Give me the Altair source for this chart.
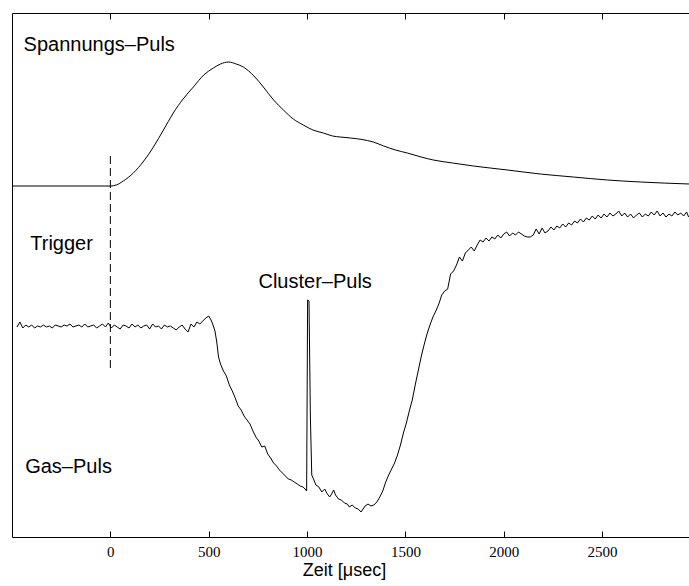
import altair as alt
import pandas as pd

# ---------------- data (time in microseconds, signal in arbitrary units) ----------------
x_ticks = [0, 500, 1000, 1500, 2000, 2500]
x_domain = [-500, 2942]
y_domain = [0, 524]

spannung_t = [-500, 0, 30, 66, 117, 170, 219, 270, 320, 370, 422, 475, 524, 560, 600,
              640, 676, 730, 778, 830, 880, 930, 981, 1030, 1083, 1130, 1169, 1220, 1280,
              1337, 1390, 1450, 1510, 1580, 1642, 1740, 1846, 2019, 2186, 2354, 2527, 2695, 2944]
spannung_v = [351, 351, 352, 356, 364, 376, 390, 407, 424, 438, 450, 462, 469, 473, 475,
              473, 470, 461, 450, 437, 427, 418, 412, 407, 404, 401, 400, 399, 397.5,
              395, 391, 387, 384, 380, 377, 374, 371, 367, 363, 360, 357, 355, 353]

gas_points = [
    (-475, 210), (-460, 215), (-445, 209), (-430, 212), (-415, 210), (-400, 212), (-385, 209),
    (-370, 211), (-355, 210), (-340, 212), (-325, 210), (-310, 211), (-295, 209), (-280, 212),
    (-265, 211), (-250, 210), (-235, 212), (-220, 211), (-205, 213), (-190, 210), (-175, 211),
    (-160, 212), (-145, 210), (-130, 213), (-115, 210), (-100, 211), (-85, 212), (-70, 209),
    (-55, 211), (-40, 213), (-25, 210), (-10, 214), (5, 209), (20, 212), (35, 210), (50, 208),
    (65, 212), (80, 211), (95, 209), (110, 213), (125, 210), (140, 212), (155, 209), (170, 211),
    (185, 212), (200, 208), (215, 213), (230, 210), (245, 211), (260, 208), (275, 212),
    (290, 210), (305, 211), (320, 209), (335, 207), (350, 210), (365, 212), (380, 208),
    (395, 205), (410, 213), (425, 210), (440, 215), (455, 213), (470, 216), (485, 219),
    (500, 221), (512, 217), (522, 212),
    (532, 206), (541, 195), (550, 180), (560, 173), (575, 166), (590, 161), (605, 152),
    (620, 146), (635, 139), (650, 131), (665, 127), (680, 121), (695, 117), (710, 113),
    (725, 106), (740, 100), (755, 96), (770, 90), (785, 91), (800, 83), (815, 79), (830, 74),
    (845, 71), (860, 67), (875, 64), (890, 61), (905, 58), (920, 57), (935, 55), (950, 53),
    (965, 51), (980, 50), (990, 48), (998, 46),
    (1003, 237), (1010, 236), (1017, 120), (1024, 62),
    (1035, 57), (1045, 52), (1060, 50), (1075, 45), (1090, 48), (1100, 44), (1115, 40),
    (1125, 43), (1135, 47), (1145, 42), (1160, 38), (1175, 37), (1190, 34), (1205, 33),
    (1215, 30), (1230, 32), (1245, 29), (1260, 28), (1275, 25), (1285, 28), (1295, 31),
    (1310, 33), (1325, 31), (1340, 32),
    (1355, 35), (1370, 40), (1385, 46), (1400, 55), (1415, 62), (1430, 68), (1445, 74),
    (1460, 82), (1475, 92), (1490, 104), (1505, 114), (1520, 126), (1535, 137), (1550, 152),
    (1565, 166), (1580, 180), (1595, 192), (1610, 203), (1625, 212), (1640, 220), (1655, 226),
    (1670, 233), (1685, 242), (1700, 246), (1715, 248), (1730, 263), (1745, 266), (1760, 272),
    (1775, 280), (1790, 276), (1805, 284), (1820, 287), (1835, 290), (1850, 286), (1865, 292),
    (1880, 297), (1895, 295), (1910, 299), (1925, 296), (1940, 300), (1955, 298), (1970, 302),
    (1985, 299), (2000, 303), (2015, 305), (2030, 301), (2045, 304), (2060, 302), (2075, 305),
    (2090, 303), (2105, 301), (2120, 300), (2135, 300), (2150, 302), (2165, 308), (2180, 303),
    (2195, 309), (2210, 304), (2225, 306), (2240, 310), (2255, 307), (2270, 311), (2285, 309),
    (2300, 313), (2315, 310), (2330, 314), (2345, 312), (2360, 316), (2375, 314), (2390, 318),
    (2405, 315), (2420, 319), (2435, 317), (2450, 321), (2465, 318), (2480, 322), (2495, 319),
    (2510, 323), (2525, 320), (2540, 324), (2555, 321), (2570, 323), (2585, 326), (2600, 321),
    (2615, 324), (2630, 320), (2645, 323), (2660, 319), (2675, 322), (2690, 324), (2705, 320),
    (2720, 323), (2735, 321), (2750, 325), (2765, 322), (2780, 326), (2795, 321), (2810, 324),
    (2825, 320), (2840, 323), (2855, 321), (2870, 325), (2885, 322), (2900, 324), (2915, 321),
    (2930, 325), (2940, 320),
]

trigger_t = [0]
trigger_v_low = [169]
trigger_v_high = [385]

label_text = ["Spannungs\u2013Puls", "Trigger", "Cluster\u2013Puls", "Gas\u2013Puls"]
label_t = [-441, -407, 753, -433]
label_v = [486, 287, 249, 64]

# ---------------- tables ----------------
gas_df = pd.DataFrame(gas_points, columns=["t", "v"])
span_df = pd.DataFrame({"t": spannung_t, "v": spannung_v})
trig_df = pd.DataFrame({"t": trigger_t, "v": trigger_v_low, "v2": trigger_v_high})
lab_df = pd.DataFrame({"t": label_t, "v": label_v, "text": label_text})

xs = alt.Scale(domain=x_domain, nice=False, zero=False)
ys = alt.Scale(domain=y_domain, nice=False, zero=False)

y_axis = alt.Axis(orient="left", domain=True, domainColor="black", domainWidth=1,
                  ticks=False, labels=False, grid=False, title=None)

axis_bottom_main = alt.Axis(
    orient="bottom", values=x_ticks, format="d", domain=True, domainColor="black",
    domainWidth=1, ticks=False, tickSize=0, labels=True, grid=False,
    labelFont="Liberation Serif", labelFontSize=15, labelColor="black",
    labelBaseline="alphabetic", labelPadding=19,
    title="Zeit [\u03bcsec]", titleFont="Liberation Sans", titleFontSize=18,
    titleFontWeight="normal", titleColor="black", titleBaseline="alphabetic",
    titleX=332, titleY=38, titleAnchor="middle", titleAlign="center",
)
axis_bottom_ticks = alt.Axis(
    orient="bottom", values=x_ticks, offset=-6, domain=False, ticks=True, tickSize=6,
    tickColor="black", tickWidth=1, labels=False, grid=False, title=None,
)
axis_top_line = alt.Axis(
    orient="top", values=x_ticks, domain=True, domainColor="black", domainWidth=1,
    ticks=False, tickSize=0, labels=False, grid=False, title=None,
)
axis_top_ticks = alt.Axis(
    orient="top", values=x_ticks, offset=-6, domain=False, ticks=True, tickSize=6,
    tickColor="black", tickWidth=1, labels=False, grid=False, title=None,
)

gas = alt.Chart(gas_df).mark_line(color="black", strokeWidth=1, clip=True).encode(
    x=alt.X("t:Q", scale=xs, axis=axis_bottom_main),
    y=alt.Y("v:Q", scale=ys, axis=y_axis),
)

span = alt.Chart(span_df).mark_line(color="black", strokeWidth=1, interpolate="monotone",
                                    clip=True).encode(
    x=alt.X("t:Q", scale=xs, axis=axis_bottom_ticks),
    y=alt.Y("v:Q", scale=ys, axis=y_axis),
)

trig = alt.Chart(trig_df).mark_rule(color="black", strokeWidth=1, strokeDash=[8, 4]).encode(
    x=alt.X("t:Q", scale=xs, axis=axis_top_line),
    y=alt.Y("v:Q", scale=ys, axis=y_axis),
    y2="v2:Q",
)

labels = alt.Chart(lab_df).mark_text(
    align="left", baseline="alphabetic", font="Liberation Sans", fontSize=20, color="black"
).encode(
    x=alt.X("t:Q", scale=xs, axis=axis_top_ticks),
    y=alt.Y("v:Q", scale=ys, axis=y_axis),
    text="text:N",
)

chart = (
    alt.layer(gas, span, trig, labels)
    .resolve_axis(x="independent")
    .properties(
        width=677, height=524,
        padding={"left": 12, "top": 13, "right": 0, "bottom": 49},
        autosize=alt.AutoSizeParams(type="none"),
        background="white",
    )
    .configure_view(stroke=None)
)

chart.save("out.html", embed_options={"renderer": "svg", "actions": False})
